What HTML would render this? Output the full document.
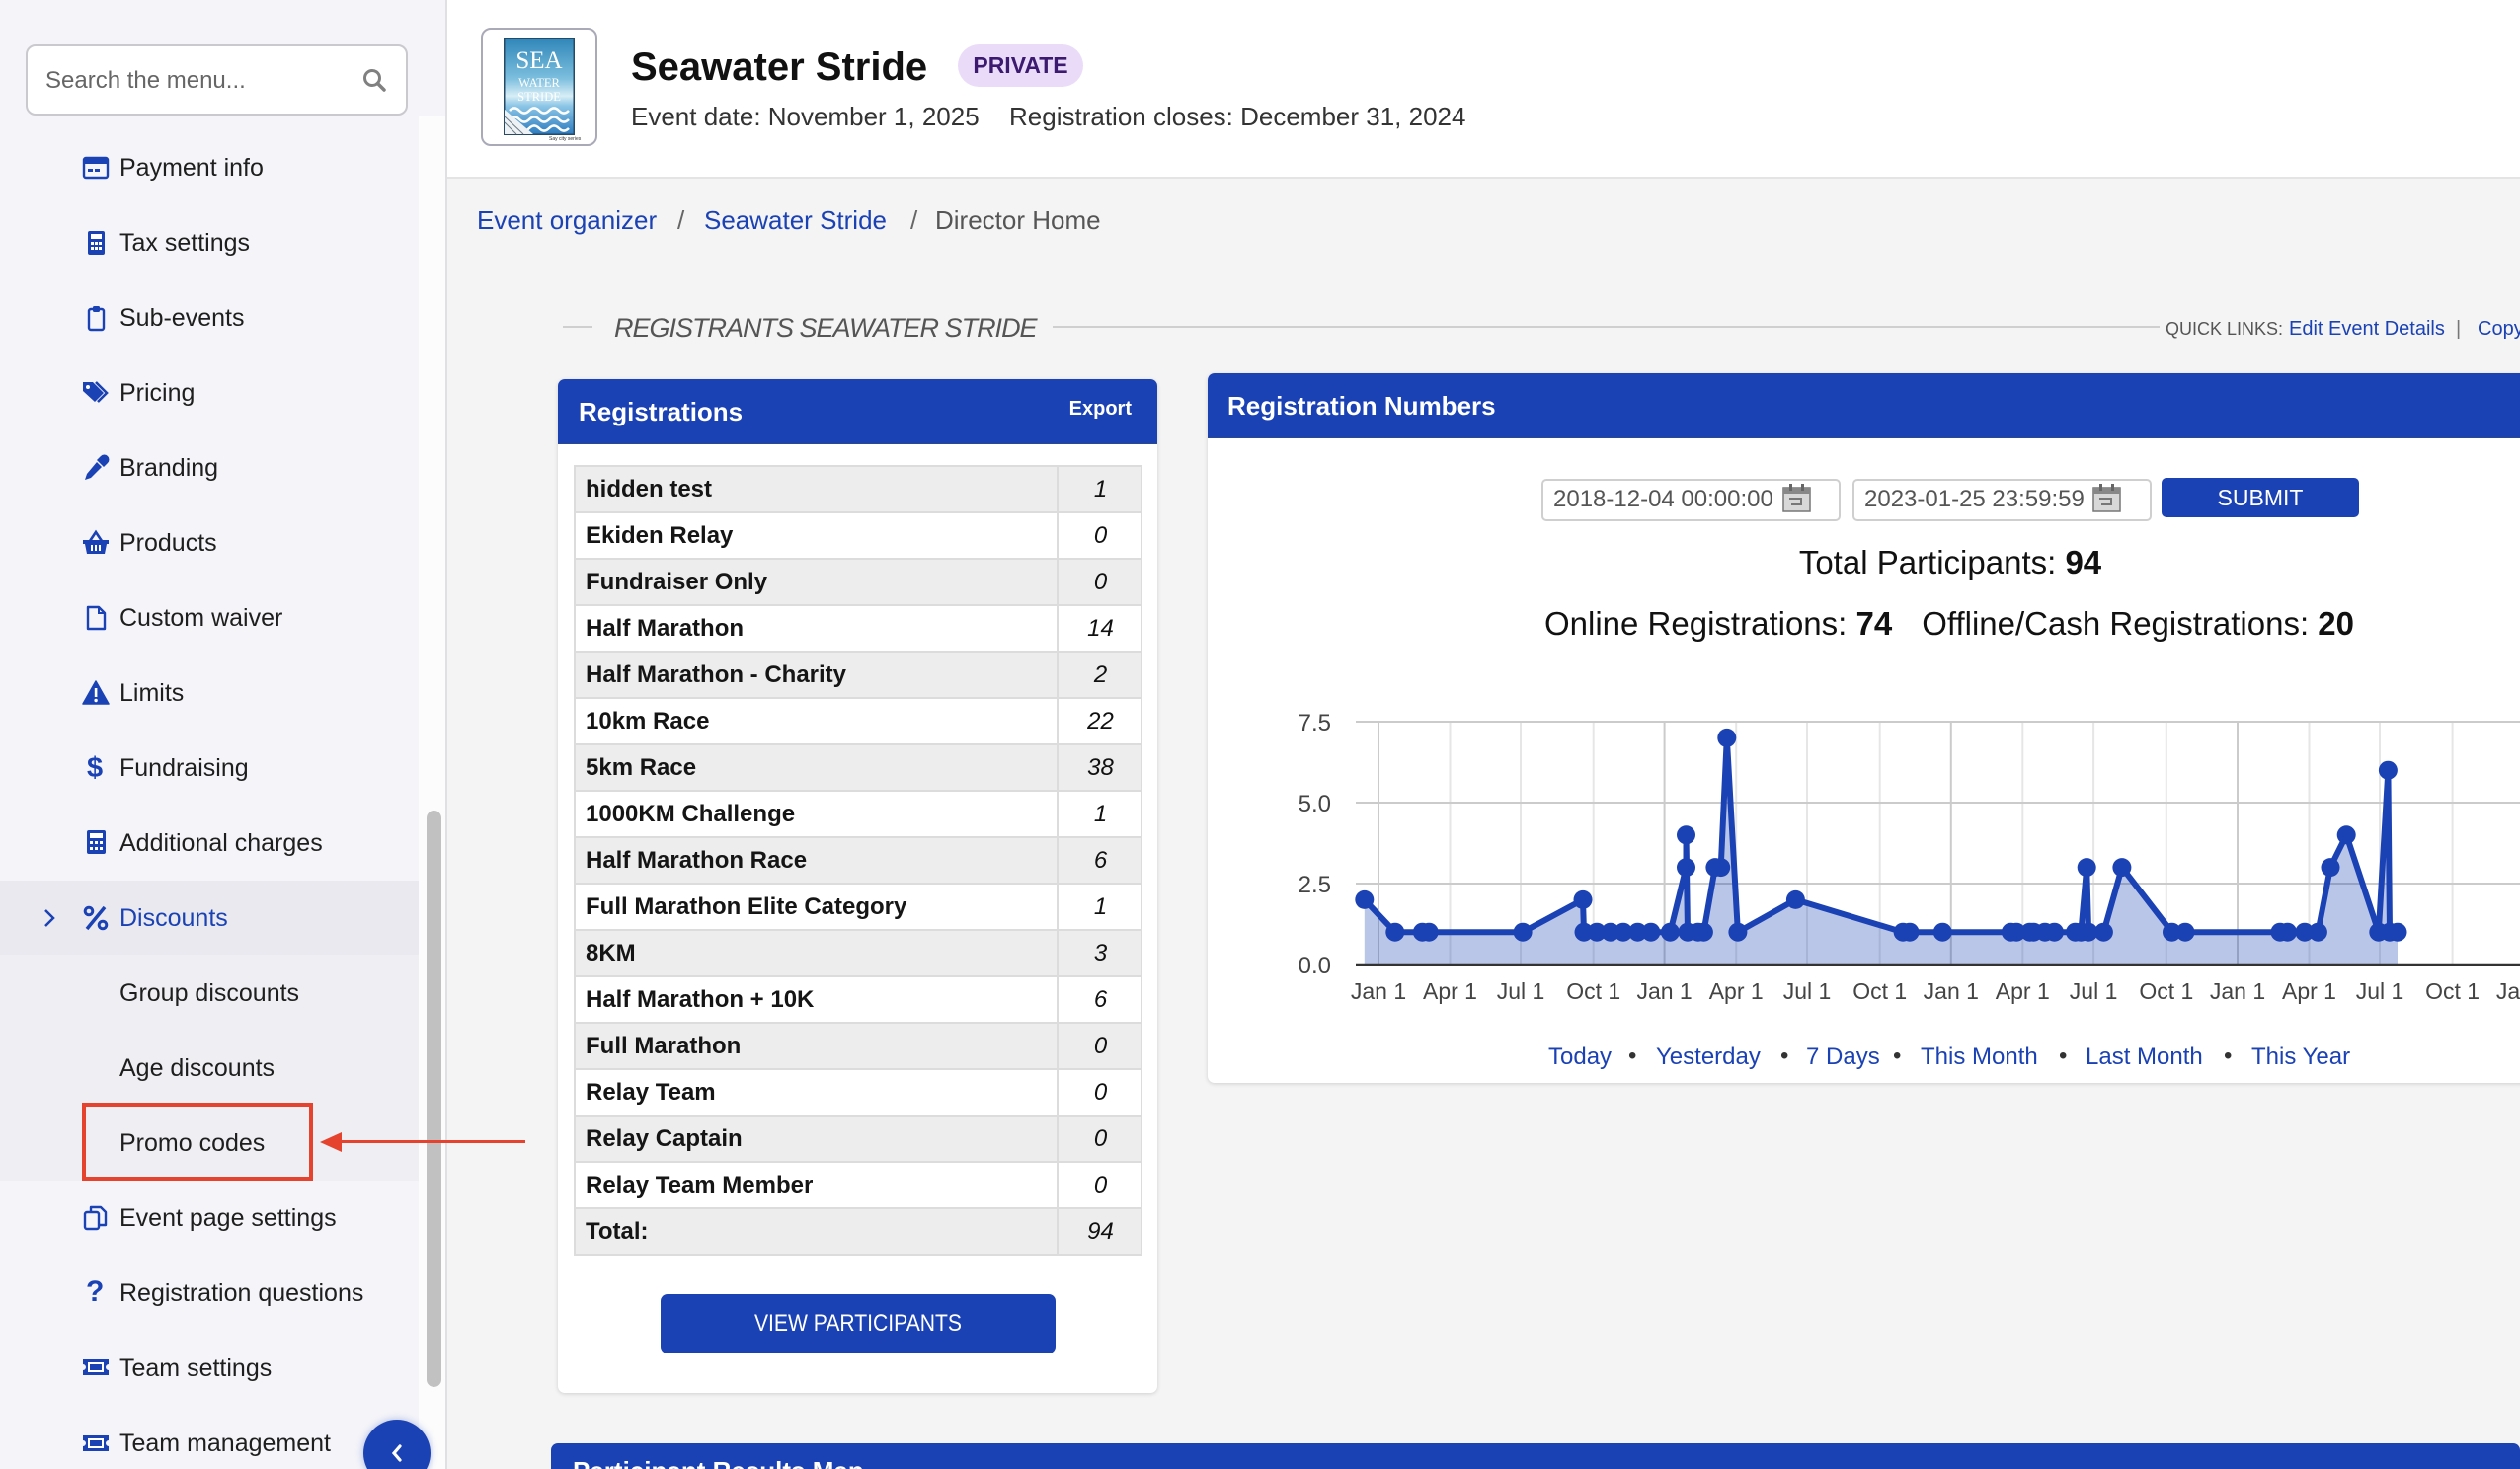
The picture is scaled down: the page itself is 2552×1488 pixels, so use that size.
<!DOCTYPE html>
<html><head><meta charset="utf-8">
<style>
*{margin:0;padding:0;box-sizing:border-box}
html,body{width:2552px;height:1488px;overflow:hidden}
body{position:relative;background:#f4f4f4;font-family:"Liberation Sans",Arial,sans-serif;color:#1e1e1e}
.a{position:absolute;white-space:nowrap}
.mi{position:absolute;left:121px;height:40px;line-height:40px;font-size:25px;color:#1e1e1e;white-space:nowrap}
.ic{position:absolute;left:83px;width:28px;height:28px}
.row{position:absolute;left:581px;width:576px;height:49px;border:2px solid #dcdcdc}
.row .t{position:absolute;left:10px;top:0;line-height:45px;font-size:24px;font-weight:bold;color:#151515}
.row .n{position:absolute;left:487px;top:-2px;width:87px;height:49px;border-left:2px solid #dcdcdc;text-align:center;line-height:49px;font-size:24px;font-style:italic;color:#111}
.g{background:#ededed}.w{background:#fff}
.blue{color:#1b42b4}
.lnk{position:absolute;top:1055px;line-height:32px;font-size:24px;color:#1b42b4;white-space:nowrap}
.dot{position:absolute;top:1054px;line-height:32px;font-size:24px;color:#333}
</style></head><body>

<!-- SIDEBAR -->
<div class="a" style="left:0;top:0;width:453px;height:1488px;background:#f4f4f9;border-right:2px solid #e0e0e4"></div>
<div class="a" style="left:424px;top:117px;width:27px;height:1371px;background:#fcfcfc"></div>
<div class="a" style="left:432px;top:821px;width:15px;height:584px;background:#c1c1c1;border-radius:8px"></div>
<div class="a" style="left:0;top:892px;width:424px;height:75px;background:#e9e9ef"></div>
<div class="a" style="left:0;top:967px;width:424px;height:229px;background:#eeeef3"></div>

<!-- search -->
<div class="a" style="left:26px;top:45px;width:387px;height:72px;background:#fff;border:2px solid #c9c9ce;border-radius:10px"></div>
<div class="a" style="left:46px;top:64px;line-height:36px;font-size:24px;color:#666">Search the menu...</div>
<svg class="a" style="left:366px;top:68px" width="28" height="28" viewBox="0 0 28 28"><circle cx="11" cy="11" r="7.5" fill="none" stroke="#808080" stroke-width="3"/><line x1="16.5" y1="16.5" x2="23" y2="23" stroke="#808080" stroke-width="3.5" stroke-linecap="round"/></svg>

<!-- menu items -->
<svg class="ic" style="top:156px" viewBox="0 0 28 28"><rect x="2" y="4" width="24" height="20" rx="2" fill="none" stroke="#1b42b4" stroke-width="2.4"/><rect x="2" y="4" width="24" height="6" fill="#1b42b4"/><rect x="6" y="15" width="5" height="3" fill="#1b42b4"/><rect x="13" y="15" width="5" height="3" fill="#1b42b4"/></svg>
<div class="mi" style="top:150px">Payment info</div>

<svg class="ic" style="top:232px" viewBox="0 0 28 28"><rect x="6" y="2" width="17" height="24" rx="2" fill="#1b42b4"/><rect x="9" y="5" width="11" height="5" fill="#fff"/><g fill="#fff"><rect x="9" y="13" width="3" height="3"/><rect x="13" y="13" width="3" height="3"/><rect x="17" y="13" width="3" height="3"/><rect x="9" y="18" width="3" height="3"/><rect x="13" y="18" width="3" height="3"/><rect x="17" y="18" width="3" height="3"/></g></svg>
<div class="mi" style="top:226px">Tax settings</div>

<svg class="ic" style="top:308px" viewBox="0 0 28 28"><rect x="7" y="5" width="15" height="21" rx="2" fill="none" stroke="#1b42b4" stroke-width="2.4"/><rect x="11" y="2" width="7" height="6" rx="1.5" fill="#1b42b4"/></svg>
<div class="mi" style="top:302px">Sub-events</div>

<svg class="ic" style="top:384px" viewBox="0 0 28 28"><path d="M1 3 h10 l11 11 l-9 9 L1 12z" fill="#1b42b4"/><circle cx="6" cy="8" r="2" fill="#fff"/><path d="M14 3 l11 11 l-9 9" fill="none" stroke="#1b42b4" stroke-width="2.6"/></svg>
<div class="mi" style="top:378px">Pricing</div>

<svg class="ic" style="top:460px" viewBox="0 0 28 28"><path d="M19 2 a4.5 4.5 0 0 1 7 7 l-4 4 -7 -7z" fill="#1b42b4"/><path d="M15 8 l5 5 -11 11 -6 2 2 -6z" fill="#1b42b4"/></svg>
<div class="mi" style="top:454px">Branding</div>

<svg class="ic" style="top:536px" viewBox="0 0 28 28"><path d="M8 12 l6 -9 l6 9" fill="none" stroke="#1b42b4" stroke-width="2.6"/><path d="M1 11 h26 v4 h-2 l-2 10 h-18 l-2 -10 h-2z" fill="#1b42b4"/><g fill="#fff"><rect x="9" y="16" width="2" height="6"/><rect x="13" y="16" width="2" height="6"/><rect x="17" y="16" width="2" height="6"/></g></svg>
<div class="mi" style="top:530px">Products</div>

<svg class="ic" style="top:612px" viewBox="0 0 28 28"><path d="M6 3 h11 l6 6 v16 h-17z" fill="none" stroke="#1b42b4" stroke-width="2.4" stroke-linejoin="round"/><path d="M17 3 v6 h6" fill="none" stroke="#1b42b4" stroke-width="2"/></svg>
<div class="mi" style="top:606px">Custom waiver</div>

<svg class="ic" style="top:688px" viewBox="0 0 28 28"><path d="M14 2 L27 25 H1z" fill="#1b42b4" stroke="#1b42b4" stroke-width="1.5" stroke-linejoin="round"/><rect x="12.8" y="9" width="2.6" height="9" fill="#fff"/><circle cx="14.1" cy="21.5" r="1.7" fill="#fff"/></svg>
<div class="mi" style="top:682px">Limits</div>

<div class="a" style="left:88px;top:758px;line-height:40px;font-size:29px;font-weight:bold;color:#1b42b4">$</div>
<div class="mi" style="top:758px">Fundraising</div>

<svg class="ic" style="top:839px" viewBox="0 0 28 28"><rect x="5" y="2" width="19" height="24" rx="2" fill="#1b42b4"/><rect x="8" y="5" width="13" height="5" fill="#fff"/><g fill="#fff"><rect x="8" y="13" width="3" height="3"/><rect x="13" y="13" width="3" height="3"/><rect x="18" y="13" width="3" height="3"/><rect x="8" y="19" width="3" height="3"/><rect x="13" y="19" width="3" height="3"/><rect x="18" y="19" width="3" height="3"/></g></svg>
<div class="mi" style="top:834px">Additional charges</div>

<svg class="a" style="left:43px;top:920px" width="14" height="20" viewBox="0 0 14 20"><path d="M3 2 l8 8 -8 8" fill="none" stroke="#1b42b4" stroke-width="2.5"/></svg>
<svg class="ic" style="top:916px" viewBox="0 0 28 28"><circle cx="7" cy="7" r="3.8" fill="none" stroke="#1b42b4" stroke-width="3"/><circle cx="21" cy="21" r="3.8" fill="none" stroke="#1b42b4" stroke-width="3"/><line x1="23" y1="3" x2="5" y2="25" stroke="#1b42b4" stroke-width="3.5"/></svg>
<div class="mi blue" style="top:910px;color:#1b42b4">Discounts</div>

<div class="mi" style="top:986px">Group discounts</div>
<div class="mi" style="top:1062px">Age discounts</div>
<div class="mi" style="top:1138px">Promo codes</div>

<svg class="ic" style="top:1220px" viewBox="0 0 28 28"><rect x="3" y="8" width="14" height="17" rx="2" fill="none" stroke="#1b42b4" stroke-width="2.4"/><path d="M9 7 V3 h10 l5 5 v13 h-6" fill="none" stroke="#1b42b4" stroke-width="2.4" stroke-linejoin="round"/></svg>
<div class="mi" style="top:1214px">Event page settings</div>

<div class="a" style="left:87px;top:1289px;line-height:40px;font-size:30px;font-weight:bold;color:#1b42b4">?</div>
<div class="mi" style="top:1290px">Registration questions</div>

<svg class="ic" style="top:1371px" viewBox="0 0 28 28"><path d="M1 6 h26 v5 a3 3 0 0 0 0 6 v5 h-26 v-5 a3 3 0 0 0 0 -6z" fill="#1b42b4"/><rect x="6" y="9" width="16" height="10" fill="#fff"/><rect x="8" y="11" width="12" height="6" fill="#1b42b4"/></svg>
<div class="mi" style="top:1366px">Team settings</div>

<svg class="ic" style="top:1448px" viewBox="0 0 28 28"><path d="M1 6 h26 v5 a3 3 0 0 0 0 6 v5 h-26 v-5 a3 3 0 0 0 0 -6z" fill="#1b42b4"/><rect x="6" y="9" width="16" height="10" fill="#fff"/><rect x="8" y="11" width="12" height="6" fill="#1b42b4"/></svg>
<div class="mi" style="top:1442px">Team management</div>

<!-- red callout -->
<div class="a" style="left:83px;top:1117px;width:234px;height:79px;border:4px solid #e5432d"></div>
<div class="a" style="left:343px;top:1155px;width:189px;height:3px;background:#e5432d"></div>
<svg class="a" style="left:322px;top:1145px" width="26" height="24" viewBox="0 0 26 24"><polygon points="2,12 24,2 24,22" fill="#e5432d"/></svg>

<!-- collapse button -->
<div class="a" style="left:368px;top:1438px;width:68px;height:68px;border-radius:50%;background:#1b42b4;box-shadow:0 0 8px rgba(27,66,180,.35)"></div>
<svg class="a" style="left:394px;top:1462px" width="16" height="20" viewBox="0 0 16 20"><path d="M11 3 l-6 7 6 7" fill="none" stroke="#fff" stroke-width="3.2" stroke-linecap="round"/></svg>

<!-- HEADER -->
<div class="a" style="left:453px;top:0;width:2099px;height:181px;background:#fff;border-bottom:2px solid #e4e4e4"></div>
<div class="a" style="left:487px;top:28px;width:118px;height:120px;background:#fff;border:2px solid #a9a9b8;border-radius:10px"></div>
<svg class="a" style="left:510px;top:38px" width="72" height="99" viewBox="0 0 72 99">
<defs><linearGradient id="lg" x1="0" y1="0" x2="0" y2="1"><stop offset="0" stop-color="#2f86b9"/><stop offset="0.42" stop-color="#7dbfde"/><stop offset="0.6" stop-color="#d8eef6"/><stop offset="0.7" stop-color="#8cc6e6"/><stop offset="1" stop-color="#2c7cc0"/></linearGradient></defs>
<rect x="0.75" y="0.75" width="70.5" height="97.5" fill="url(#lg)" stroke="#264a66" stroke-width="1.5"/>
<text x="36" y="31" text-anchor="middle" font-family="Liberation Serif" font-size="25" fill="#fff">SEA</text>
<text x="36" y="50" text-anchor="middle" font-family="Liberation Serif" font-size="12.5" fill="#fff">WATER</text>
<text x="36" y="64" text-anchor="middle" font-family="Liberation Serif" font-size="12.5" fill="#fff">STRIDE</text>
<path d="M6 74 q5 -5 10 0 t10 0 t10 0 t10 0 t10 0 t10 0" stroke="#fff" stroke-width="2.5" fill="none"/>
<path d="M6 83 q5 -5 10 0 t10 0 t10 0 t10 0 t10 0 t10 0" stroke="#fff" stroke-width="2.5" fill="none"/>
<path d="M6 92 q5 -5 10 0 t10 0 t10 0 t10 0 t10 0 t10 0" stroke="#fff" stroke-width="2.5" fill="none"/>
<polygon points="1,73 30,98 1,98" fill="#eef2f4"/>
<line x1="1" y1="80" x2="20" y2="98" stroke="#6a7c88" stroke-width="1"/>
<line x1="1" y1="86" x2="13" y2="98" stroke="#6a7c88" stroke-width="1"/>
</svg>
<div class="a" style="left:556px;top:138px;font-size:5px;line-height:6px;color:#333">Say city series</div>

<div class="a" style="left:639px;top:43px;line-height:50px;font-size:40px;font-weight:bold;color:#111">Seawater Stride</div>
<div class="a" style="left:970px;top:45px;width:127px;height:43px;border-radius:22px;background:#eadcf8;color:#3b1a70;font-size:23px;font-weight:bold;line-height:43px;text-align:center">PRIVATE</div>
<div class="a" style="left:639px;top:100px;line-height:36px;font-size:26px;color:#333">Event date: November 1, 2025</div>
<div class="a" style="left:1022px;top:100px;line-height:36px;font-size:26px;color:#333">Registration closes: December 31, 2024</div>

<!-- breadcrumb -->
<div class="a" style="left:483px;top:205px;line-height:36px;font-size:26px;color:#1b42b4">Event organizer</div>
<div class="a" style="left:686px;top:205px;line-height:36px;font-size:26px;color:#666">/</div>
<div class="a" style="left:713px;top:205px;line-height:36px;font-size:26px;color:#1b42b4">Seawater Stride</div>
<div class="a" style="left:922px;top:205px;line-height:36px;font-size:26px;color:#666">/</div>
<div class="a" style="left:947px;top:205px;line-height:36px;font-size:26px;color:#555">Director Home</div>

<!-- section title -->
<div class="a" style="left:570px;top:330px;width:30px;height:2px;background:#cfcfcf"></div>
<div class="a" style="left:622px;top:313px;line-height:38px;font-size:27px;letter-spacing:-1px;font-style:italic;color:#555">REGISTRANTS SEAWATER STRIDE</div>
<div class="a" style="left:1066px;top:330px;width:1121px;height:2px;background:#cfcfcf"></div>
<div class="a" style="left:2193px;top:320px;line-height:26px;font-size:18px;color:#555">QUICK LINKS:</div>
<div class="a" style="left:2318px;top:320px;line-height:26px;font-size:20px;color:#1b42b4">Edit Event Details</div>
<div class="a" style="left:2487px;top:320px;line-height:26px;font-size:20px;color:#777">|</div>
<div class="a" style="left:2509px;top:320px;line-height:26px;font-size:20px;color:#1b42b4">Copy</div>

<!-- REGISTRATIONS PANEL -->
<div class="a" style="left:565px;top:384px;width:607px;height:1027px;background:#fff;border-radius:7px;box-shadow:0 1px 4px rgba(0,0,0,.15)"></div>
<div class="a" style="left:565px;top:384px;width:607px;height:66px;background:#1b42b4;border-radius:7px 7px 0 0;border-bottom:1px solid #2d4a88"></div>
<div class="a" style="left:586px;top:399px;line-height:36px;font-size:26px;font-weight:bold;color:#fff">Registrations</div>
<div class="a" style="left:1070px;top:400px;width:76px;text-align:right;line-height:28px;font-size:20px;font-weight:bold;color:#fff">Export</div>

<div class="row g" style="top:471px"><div class="t">hidden test</div><div class="n">1</div></div>
<div class="row w" style="top:518px"><div class="t">Ekiden Relay</div><div class="n">0</div></div>
<div class="row g" style="top:565px"><div class="t">Fundraiser Only</div><div class="n">0</div></div>
<div class="row w" style="top:612px"><div class="t">Half Marathon</div><div class="n">14</div></div>
<div class="row g" style="top:659px"><div class="t">Half Marathon - Charity</div><div class="n">2</div></div>
<div class="row w" style="top:706px"><div class="t">10km Race</div><div class="n">22</div></div>
<div class="row g" style="top:753px"><div class="t">5km Race</div><div class="n">38</div></div>
<div class="row w" style="top:800px"><div class="t">1000KM Challenge</div><div class="n">1</div></div>
<div class="row g" style="top:847px"><div class="t">Half Marathon Race</div><div class="n">6</div></div>
<div class="row w" style="top:894px"><div class="t">Full Marathon Elite Category</div><div class="n">1</div></div>
<div class="row g" style="top:941px"><div class="t">8KM</div><div class="n">3</div></div>
<div class="row w" style="top:988px"><div class="t">Half Marathon + 10K</div><div class="n">6</div></div>
<div class="row g" style="top:1035px"><div class="t">Full Marathon</div><div class="n">0</div></div>
<div class="row w" style="top:1082px"><div class="t">Relay Team</div><div class="n">0</div></div>
<div class="row g" style="top:1129px"><div class="t">Relay Captain</div><div class="n">0</div></div>
<div class="row w" style="top:1176px"><div class="t">Relay Team Member</div><div class="n">0</div></div>
<div class="row g" style="top:1223px"><div class="t">Total:</div><div class="n">94</div></div>

<div class="a" style="left:669px;top:1311px;width:400px;height:60px;background:#1b42b4;border-radius:7px"></div>
<div class="a" style="left:669px;top:1311px;width:400px;height:60px;color:#fff;font-size:24px;line-height:60px;text-align:center;transform:scaleX(0.88)">VIEW PARTICIPANTS</div>

<!-- REGISTRATION NUMBERS PANEL -->
<div class="a" style="left:1223px;top:378px;width:1360px;height:719px;background:#fff;border-radius:7px;box-shadow:0 1px 4px rgba(0,0,0,.15)"></div>
<div class="a" style="left:1223px;top:378px;width:1360px;height:66px;background:#1b42b4;border-radius:7px 7px 0 0;border-bottom:1px solid #2d4a88"></div>
<div class="a" style="left:1243px;top:393px;line-height:36px;font-size:26px;font-weight:bold;color:#fff">Registration Numbers</div>

<div class="a" style="left:1561px;top:485px;width:303px;height:43px;background:#fff;border:2px solid #cfcfcf;border-radius:5px"></div>
<div class="a" style="left:1573px;top:489px;line-height:34px;font-size:24px;color:#555">2018-12-04 00:00:00</div>
<svg class="a" style="left:1804px;top:489px" width="31" height="31" viewBox="0 0 31 31"><rect x="2" y="5" width="27" height="24" fill="#d8d8d8" stroke="#777" stroke-width="1.5"/><rect x="2" y="5" width="27" height="6" fill="#888"/><rect x="8" y="1" width="3" height="7" fill="#666"/><rect x="20" y="1" width="3" height="7" fill="#666"/><path d="M8 16 h12 v6 h-10" fill="none" stroke="#777" stroke-width="2"/></svg>
<div class="a" style="left:1876px;top:485px;width:303px;height:43px;background:#fff;border:2px solid #cfcfcf;border-radius:5px"></div>
<div class="a" style="left:1888px;top:489px;line-height:34px;font-size:24px;color:#555">2023-01-25 23:59:59</div>
<svg class="a" style="left:2118px;top:489px" width="31" height="31" viewBox="0 0 31 31"><rect x="2" y="5" width="27" height="24" fill="#d8d8d8" stroke="#777" stroke-width="1.5"/><rect x="2" y="5" width="27" height="6" fill="#888"/><rect x="8" y="1" width="3" height="7" fill="#666"/><rect x="20" y="1" width="3" height="7" fill="#666"/><path d="M8 16 h12 v6 h-10" fill="none" stroke="#777" stroke-width="2"/></svg>
<div class="a" style="left:2189px;top:484px;width:200px;height:40px;background:#1b42b4;border-radius:5px;color:#fff;font-size:23px;line-height:40px;text-align:center">SUBMIT</div>

<div class="a" style="left:1475px;top:549px;width:1000px;text-align:center;line-height:42px;font-size:33px;color:#111">Total Participants: <b>94</b></div>
<div class="a" style="left:1474px;top:611px;width:1000px;text-align:center;line-height:42px;font-size:33px;color:#111">Online Registrations: <b>74</b><span style="display:inline-block;width:30px"></span>Offline/Cash Registrations: <b>20</b></div>

<!-- CHART -->
<svg class="a" style="left:0;top:0" width="2552" height="1488">
<g stroke-width="2">
<line x1="1468.5" y1="731" x2="1468.5" y2="977" stroke="#e6e6e6"/>
<line x1="1540" y1="731" x2="1540" y2="977" stroke="#e6e6e6"/>
<line x1="1613.7" y1="731" x2="1613.7" y2="977" stroke="#e6e6e6"/>
<line x1="1758.2" y1="731" x2="1758.2" y2="977" stroke="#e6e6e6"/>
<line x1="1830" y1="731" x2="1830" y2="977" stroke="#e6e6e6"/>
<line x1="1903.7" y1="731" x2="1903.7" y2="977" stroke="#e6e6e6"/>
<line x1="2048.3" y1="731" x2="2048.3" y2="977" stroke="#e6e6e6"/>
<line x1="2120.1" y1="731" x2="2120.1" y2="977" stroke="#e6e6e6"/>
<line x1="2193.8" y1="731" x2="2193.8" y2="977" stroke="#e6e6e6"/>
<line x1="2338.5" y1="731" x2="2338.5" y2="977" stroke="#e6e6e6"/>
<line x1="2410" y1="731" x2="2410" y2="977" stroke="#e6e6e6"/>
<line x1="2483.6" y1="731" x2="2483.6" y2="977" stroke="#e6e6e6"/>
<line x1="1396" y1="731" x2="1396" y2="977" stroke="#cbcbcb"/>
<line x1="1685.6" y1="731" x2="1685.6" y2="977" stroke="#cbcbcb"/>
<line x1="1975.8" y1="731" x2="1975.8" y2="977" stroke="#cbcbcb"/>
<line x1="2266" y1="731" x2="2266" y2="977" stroke="#cbcbcb"/>
<line x1="1373" y1="731" x2="2552" y2="731" stroke="#cbcbcb"/>
<line x1="1373" y1="813" x2="2552" y2="813" stroke="#cbcbcb"/>
<line x1="1373" y1="895" x2="2552" y2="895" stroke="#cbcbcb"/>
</g>
<polygon fill="#1b42b4" fill-opacity="0.3" points="1381.8,977 1381.8,911.4 1412.8,944.2 1440.4,944.2 1447.2,944.2 1542.1,944.2 1603.0,911.4 1604.0,944.2 1617.1,944.2 1630.9,944.2 1643.9,944.2 1658.5,944.2 1671.9,944.2 1691.4,944.2 1707.5,878.6 1707.5,845.8 1709.0,944.2 1719.7,944.2 1725.4,944.2 1736.9,878.6 1742.7,878.6 1748.8,747.4 1759.9,944.2 1818.4,911.4 1927.1,944.2 1934.0,944.2 1967.3,944.2 2036.4,944.2 2042.1,944.2 2055.6,944.2 2059.4,944.2 2070.9,944.2 2080.5,944.2 2101.6,944.2 2107.4,944.2 2113.2,878.6 2115.1,944.2 2130.4,944.2 2148.9,878.6 2199.5,944.2 2213.0,944.2 2309.0,944.2 2316.6,944.2 2333.9,944.2 2347.4,944.2 2360.0,878.6 2376.2,845.8 2408.8,944.2 2418.4,780.2 2420.0,944.2 2428.0,944.2 2428,977"/>
<line x1="1373" y1="977" x2="2552" y2="977" stroke="#333" stroke-width="2.5"/>
<polyline fill="none" stroke="#1b42b4" stroke-width="6" stroke-linejoin="round" stroke-linecap="round" points="1381.8,911.4 1412.8,944.2 1440.4,944.2 1447.2,944.2 1542.1,944.2 1603.0,911.4 1604.0,944.2 1617.1,944.2 1630.9,944.2 1643.9,944.2 1658.5,944.2 1671.9,944.2 1691.4,944.2 1707.5,878.6 1707.5,845.8 1709.0,944.2 1719.7,944.2 1725.4,944.2 1736.9,878.6 1742.7,878.6 1748.8,747.4 1759.9,944.2 1818.4,911.4 1927.1,944.2 1934.0,944.2 1967.3,944.2 2036.4,944.2 2042.1,944.2 2055.6,944.2 2059.4,944.2 2070.9,944.2 2080.5,944.2 2101.6,944.2 2107.4,944.2 2113.2,878.6 2115.1,944.2 2130.4,944.2 2148.9,878.6 2199.5,944.2 2213.0,944.2 2309.0,944.2 2316.6,944.2 2333.9,944.2 2347.4,944.2 2360.0,878.6 2376.2,845.8 2408.8,944.2 2418.4,780.2 2420.0,944.2 2428.0,944.2"/>
<g fill="#1b42b4">
<circle cx="1381.8" cy="911.4" r="9.5"/><circle cx="1412.8" cy="944.2" r="9.5"/><circle cx="1440.4" cy="944.2" r="9.5"/><circle cx="1447.2" cy="944.2" r="9.5"/><circle cx="1542.1" cy="944.2" r="9.5"/><circle cx="1603.0" cy="911.4" r="9.5"/><circle cx="1604.0" cy="944.2" r="9.5"/><circle cx="1617.1" cy="944.2" r="9.5"/><circle cx="1630.9" cy="944.2" r="9.5"/><circle cx="1643.9" cy="944.2" r="9.5"/><circle cx="1658.5" cy="944.2" r="9.5"/><circle cx="1671.9" cy="944.2" r="9.5"/><circle cx="1691.4" cy="944.2" r="9.5"/><circle cx="1707.5" cy="878.6" r="9.5"/><circle cx="1707.5" cy="845.8" r="9.5"/><circle cx="1709.0" cy="944.2" r="9.5"/><circle cx="1719.7" cy="944.2" r="9.5"/><circle cx="1725.4" cy="944.2" r="9.5"/><circle cx="1736.9" cy="878.6" r="9.5"/><circle cx="1742.7" cy="878.6" r="9.5"/><circle cx="1748.8" cy="747.4" r="9.5"/><circle cx="1759.9" cy="944.2" r="9.5"/><circle cx="1818.4" cy="911.4" r="9.5"/><circle cx="1927.1" cy="944.2" r="9.5"/><circle cx="1934.0" cy="944.2" r="9.5"/><circle cx="1967.3" cy="944.2" r="9.5"/><circle cx="2036.4" cy="944.2" r="9.5"/><circle cx="2042.1" cy="944.2" r="9.5"/><circle cx="2055.6" cy="944.2" r="9.5"/><circle cx="2059.4" cy="944.2" r="9.5"/><circle cx="2070.9" cy="944.2" r="9.5"/><circle cx="2080.5" cy="944.2" r="9.5"/><circle cx="2101.6" cy="944.2" r="9.5"/><circle cx="2107.4" cy="944.2" r="9.5"/><circle cx="2113.2" cy="878.6" r="9.5"/><circle cx="2115.1" cy="944.2" r="9.5"/><circle cx="2130.4" cy="944.2" r="9.5"/><circle cx="2148.9" cy="878.6" r="9.5"/><circle cx="2199.5" cy="944.2" r="9.5"/><circle cx="2213.0" cy="944.2" r="9.5"/><circle cx="2309.0" cy="944.2" r="9.5"/><circle cx="2316.6" cy="944.2" r="9.5"/><circle cx="2333.9" cy="944.2" r="9.5"/><circle cx="2347.4" cy="944.2" r="9.5"/><circle cx="2360.0" cy="878.6" r="9.5"/><circle cx="2376.2" cy="845.8" r="9.5"/><circle cx="2408.8" cy="944.2" r="9.5"/><circle cx="2418.4" cy="780.2" r="9.5"/><circle cx="2420.0" cy="944.2" r="9.5"/><circle cx="2428.0" cy="944.2" r="9.5"/>
</g>
<g font-family="Liberation Sans, Arial, sans-serif" font-size="24" fill="#444" text-anchor="end">
<text x="1348" y="740">7.5</text><text x="1348" y="822">5.0</text><text x="1348" y="904">2.5</text><text x="1348" y="986">0.0</text>
</g>
<g font-family="Liberation Sans, Arial, sans-serif" font-size="23" fill="#444" text-anchor="middle">
<text x="1396" y="1012">Jan 1</text><text x="1468.5" y="1012">Apr 1</text><text x="1540" y="1012">Jul 1</text><text x="1613.7" y="1012">Oct 1</text>
<text x="1685.6" y="1012">Jan 1</text><text x="1758.2" y="1012">Apr 1</text><text x="1830" y="1012">Jul 1</text><text x="1903.7" y="1012">Oct 1</text>
<text x="1975.8" y="1012">Jan 1</text><text x="2048.3" y="1012">Apr 1</text><text x="2120.1" y="1012">Jul 1</text><text x="2193.8" y="1012">Oct 1</text>
<text x="2266" y="1012">Jan 1</text><text x="2338.5" y="1012">Apr 1</text><text x="2410" y="1012">Jul 1</text><text x="2483.6" y="1012">Oct 1</text>
<text x="2556" y="1012">Jan 1</text>
</g>
</svg>

<!-- range links -->
<div class="lnk" style="left:1568px">Today</div>
<div class="dot" style="left:1649px">•</div>
<div class="lnk" style="left:1677px">Yesterday</div>
<div class="dot" style="left:1803px">•</div>
<div class="lnk" style="left:1829px">7 Days</div>
<div class="dot" style="left:1917px">•</div>
<div class="lnk" style="left:1945px">This Month</div>
<div class="dot" style="left:2085px">•</div>
<div class="lnk" style="left:2112px">Last Month</div>
<div class="dot" style="left:2252px">•</div>
<div class="lnk" style="left:2280px">This Year</div>

<!-- bottom panel header -->
<div class="a" style="left:558px;top:1462px;width:1994px;height:30px;background:#1b42b4;border-radius:7px 7px 0 0;overflow:hidden">
<div class="a" style="left:22px;top:13px;line-height:30px;font-size:26px;font-weight:bold;color:#fff">Participant Results Map</div>
</div>

</body></html>
